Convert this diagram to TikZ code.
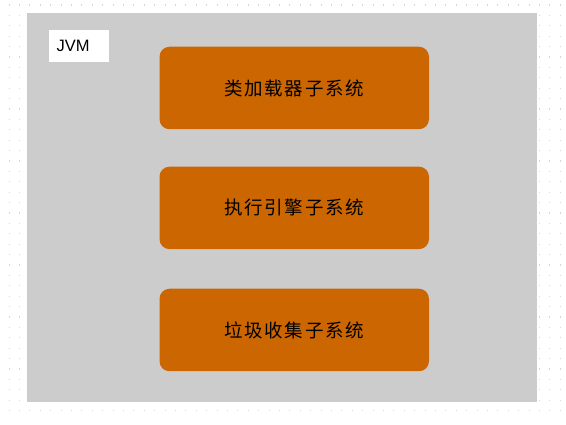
\documentclass[tikz,border=0pt]{standalone}
\usepackage{fontspec}
\setmainfont{Liberation Sans}
\newfontfamily\cjk{Noto Sans CJK SC}[LetterSpace=9]
\definecolor{gridgray}{HTML}{D6D6D6}
\definecolor{panelgray}{HTML}{CCCCCC}
\definecolor{subsys}{HTML}{CC6600}
\tikzset{
  subbox/.style={fill=subsys, draw=none, rounded corners=10pt, minimum width=269.5pt, minimum height=82.5pt, inner sep=0pt, font=\cjk\fontsize{18.5}{22}\selectfont, text=black},
  labelbox/.style={fill=white, draw=none, minimum width=60pt, minimum height=32.6pt, inner xsep=8pt, inner ysep=0pt, text width=44pt, align=left, font=\fontsize{16.5}{19}\selectfont, text=black}
}
\begin{document}
\begin{tikzpicture}[x=1pt,y=-1pt]
\useasboundingbox (0,0) rectangle (566,425);
\fill[white] (0,0) rectangle (566,425);
\foreach \i in {0,...,53}{
  \foreach \j in {0,...,39}{
    \fill[gridgray] ({9+10.4*\i-0.5},{5+10.4*\j-0.5}) rectangle ++(1.1,1.1);
  }
}
\fill[panelgray] (27,13) rectangle (537,402.5);
\node[labelbox] (jvm) at (78.7,46) {JVM};
\node[subbox] (cls) at (294.25,88) {\raisebox{-1pt}{类加载器子系统}};
\node[subbox] (exe) at (294.25,207.9) {\raisebox{-1pt}{执行引擎子系统}};
\node[subbox] (gc) at (294.25,330) {\raisebox{-1pt}{垃圾收集子系统}};
\end{tikzpicture}
\end{document}
